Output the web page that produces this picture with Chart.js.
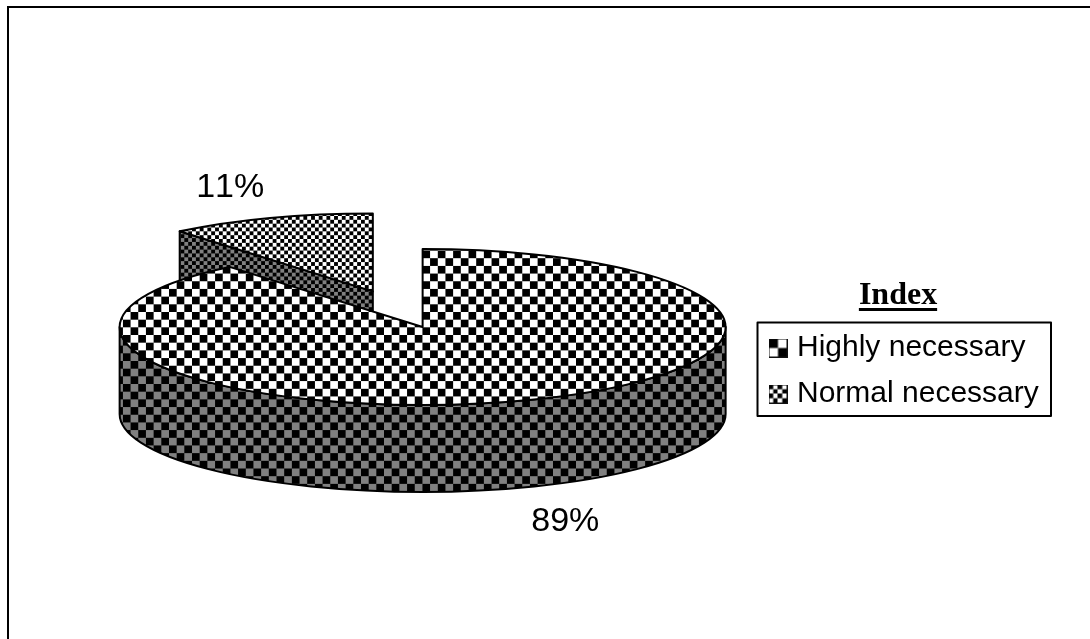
<!DOCTYPE html>
<html>
<head>
<meta charset="utf-8">
<title>Index</title>
<style>
  html, body { margin: 0; background: #fff; }
  canvas { display: block; }
</style>
<script src="https://cdn.jsdelivr.net/npm/chart.js@4/dist/chart.umd.min.js"></script>
</head>
<body>
<canvas id="pie" width="1090" height="639"></canvas>
<script>
const categories = ['Highly necessary', 'Normal necessary'];
const seriesValues = [89, 11];
const legendTitle = 'Index';

// Look of the tilted pie
const RADIUS = 303;
const TILT = 0.2574;     // vertical squash of the circle
const DEPTH = 87;        // height of the side walls
const EXPLODE = 147;     // how far the small slice is pulled out, before squashing
const PATTERN_SCALE = 0.96;

function tile(cell, dark, light) {
  const c = document.createElement('canvas');
  c.width = c.height = cell * 2;
  const g = c.getContext('2d');
  g.fillStyle = light;
  g.fillRect(0, 0, cell * 2, cell * 2);
  g.fillStyle = dark;
  g.fillRect(0, 0, cell, cell);
  g.fillRect(cell, cell, cell, cell);
  return c;
}

function checker(ctx, cell, dark, light, squashed) {
  const p = ctx.createPattern(tile(cell, dark, light), 'repeat');
  // arcs are filled under the squash transform, so undo it for the pattern
  p.setTransform(new DOMMatrix().scale(PATTERN_SCALE, PATTERN_SCALE / (squashed ? TILT : 1)));
  return p;
}

// Little legend key: bordered square with a checker inside
function swatch(cell) {
  const c = document.createElement('canvas');
  c.width = c.height = 19;
  const g = c.getContext('2d');
  g.fillStyle = g.createPattern(tile(cell, '#000', '#fff'), 'repeat');
  g.fillRect(0, 0, 19, 19);
  g.strokeStyle = '#111';
  g.lineWidth = 1;
  g.strokeRect(0.5, 0.5, 18, 18);
  return c;
}

const canvas = document.getElementById('pie');
const ctx = canvas.getContext('2d');

const topFills = [checker(ctx, 8, '#000', '#fff', true), checker(ctx, 4, '#000', '#fff', true)];
const wallFills = [checker(ctx, 8, '#000', '#808080', false), checker(ctx, 4, '#000', '#808080', false)];
const keys = [swatch(9.5), swatch(4.75)];

// screen y of an arc centre once the squash is applied
function screenY(chart, y) {
  const cy = (chart.chartArea.top + chart.chartArea.bottom) / 2;
  return cy + (y - cy) * TILT;
}

function strokeIt(c) {
  c.strokeStyle = '#000';
  c.lineWidth = 2;
  c.lineJoin = 'round';
  c.stroke();
}

const pie3d = {
  id: 'pie3d',
  afterDatasetsUpdate(chart) {
    // pull the small slice away from the centre
    const arcs = chart.getDatasetMeta(0).data;
    arcs.forEach((arc, i) => {
      if (i === 0) return;
      const mid = (arc.startAngle + arc.endAngle) / 2;
      arc.x += Math.cos(mid) * EXPLODE;
      arc.y += Math.sin(mid) * EXPLODE;
    });
  },
  afterLayout(chart) {
    // legend block sits in its own spot, not against the chart area
    const lg = chart.legend;
    const w = lg.width, h = lg.height;
    lg.left = 758; lg.right = lg.left + w;
    lg.top = 317; lg.bottom = lg.top + h;
  },
  beforeDatasetDraw(chart) {
    const c = chart.ctx;
    const arcs = chart.getDatasetMeta(0).data;

    // cut face of the small slice
    const small = arcs[1];
    const sy = screenY(chart, small.y);
    const cornerX = small.x + Math.cos(small.startAngle) * RADIUS;
    const cornerY = sy + Math.sin(small.startAngle) * RADIUS * TILT;
    c.beginPath();
    c.moveTo(cornerX, cornerY);
    c.lineTo(small.x, sy);
    c.lineTo(small.x, sy + DEPTH);
    c.lineTo(cornerX, cornerY + DEPTH);
    c.closePath();
    c.fillStyle = wallFills[1];
    c.fill();
    strokeIt(c);

    // front wall of the big slice
    const big = arcs[0];
    const by = screenY(chart, big.y);
    c.beginPath();
    c.ellipse(big.x, by, RADIUS, RADIUS * TILT, 0, 0, Math.PI);
    c.ellipse(big.x, by + DEPTH, RADIUS, RADIUS * TILT, 0, Math.PI, 0, true);
    c.closePath();
    c.fillStyle = wallFills[0];
    c.fill();
    strokeIt(c);

    const cy = (chart.chartArea.top + chart.chartArea.bottom) / 2;
    c.save();
    c.translate(0, cy);
    c.scale(1, TILT);
    c.translate(0, -cy);
  },
  afterDatasetDraw(chart) {
    const c = chart.ctx;
    c.restore();
    // outlines go here so the squash doesn't thin them
    chart.getDatasetMeta(0).data.forEach(arc => {
      const y = screenY(chart, arc.y);
      c.beginPath();
      c.moveTo(arc.x, y);
      c.ellipse(arc.x, y, RADIUS, RADIUS * TILT, 0, arc.startAngle, arc.endAngle);
      c.closePath();
      strokeIt(c);
    });
  },
  afterDraw(chart) {
    const c = chart.ctx;
    const arcs = chart.getDatasetMeta(0).data;

    // percentage labels
    c.save();
    c.fillStyle = '#000';
    c.font = '34px "Liberation Sans"';
    c.fontKerning = 'none';
    c.textAlign = 'center';
    c.textBaseline = 'alphabetic';
    arcs.forEach((arc, i) => {
      const mid = (arc.startAngle + arc.endAngle) / 2;
      const sin = Math.sin(mid), cos = Math.cos(mid);
      const x = arc.x + RADIUS * cos + 40 * Math.sign(cos);
      const y = screenY(chart, arc.y) + RADIUS * TILT * sin + (sin > 0 ? 44 + DEPTH : -21);
      c.fillText(seriesValues[i] + '%', x, y);
    });

    // legend title with its underline, off-centre over the frame
    c.font = 'bold 32px "Liberation Serif"';
    c.fillText(legendTitle, 898, 304);
    const tw = c.measureText(legendTitle).width;
    c.fillRect(898 - tw / 2, 308, tw, 3);
    c.restore();

    // the legend has no frame of its own
    const hits = chart.legend.legendHitBoxes;
    const last = hits[hits.length - 1];
    const frameTop = hits[0].top - 10.5;
    c.strokeStyle = '#000';
    c.lineWidth = 2;
    c.strokeRect(757.5, frameTop, 293.5, last.top + last.height + 7 - frameTop);

    // sheet edge along the top and left
    c.fillStyle = '#000';
    c.fillRect(7, 6, chart.width - 7, 2);
    c.fillRect(7, 6, 2, chart.height - 6);
  }
};

new Chart(ctx, {
  type: 'pie',
  data: {
    labels: categories,
    datasets: [{
      data: seriesValues,
      backgroundColor: topFills,
      borderWidth: 0,
      clip: false
    }]
  },
  options: {
    responsive: false,
    animation: false,
    radius: RADIUS,
    layout: { padding: { left: 85, right: 39, top: 15, bottom: 0 } },
    plugins: {
      tooltip: { enabled: false },
      legend: {
        position: 'right',
        align: 'start',
        labels: {
          color: '#000',
          font: { family: '"Liberation Sans"', size: 30 },
          usePointStyle: true,
          pointStyleWidth: 8,
          padding: 16,
          generateLabels: () => categories.map((text, i) => ({
            text,
            pointStyle: keys[i],
            fillStyle: '#fff',
            strokeStyle: '#000',
            lineWidth: 0,
            hidden: false,
            index: i
          }))
        }
      }
    }
  },
  plugins: [pie3d]
});
</script>
</body>
</html>
